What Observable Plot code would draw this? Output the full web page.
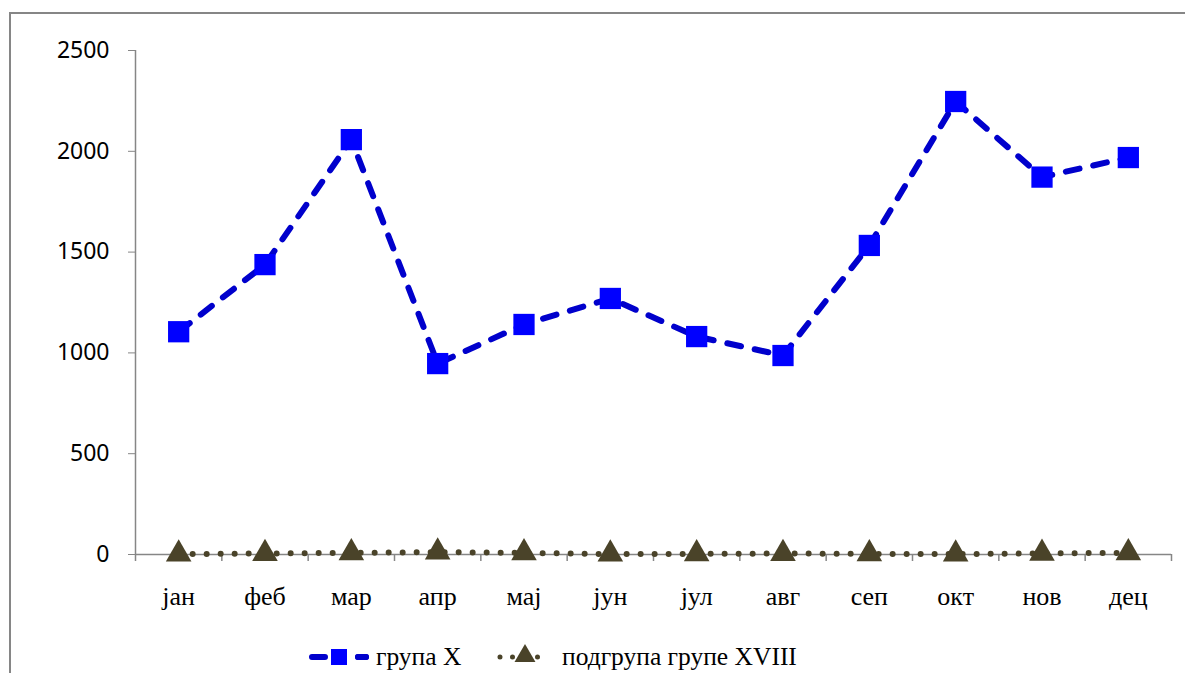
<!DOCTYPE html>
<html>
<head>
<meta charset="utf-8">
<script src="https://cdn.jsdelivr.net/npm/d3@7"></script>
<script src="https://cdn.jsdelivr.net/npm/@observablehq/plot@0.6"></script>
<style>
  html, body { margin: 0; padding: 0; background: #fff; }
  body { width: 1185px; height: 673px; overflow: hidden; position: relative; }
  #frame { position: absolute; left: 9px; top: 12px; width: 1300px; height: 800px;
           border-left: 2px solid #868686; border-top: 2px solid #868686; box-sizing: border-box; }
  #chart { position: absolute; left: 0; top: 0; }
  .legend-item { position: absolute; top: 641px; height: 32px; display: flex; align-items: center;
                 font-family: "Liberation Serif", "Times New Roman", serif; font-size: 25.5px; color: #000; }
  .legend-item svg { display: block; }
</style>
</head>
<body>
<div id="frame"></div>
<div id="chart"></div>
<div class="legend-item" id="leg1" style="left:308px"></div>
<div class="legend-item" id="leg2" style="left:496px"></div>
<script>
// Months (Serbian Cyrillic) and monthly values for the two series
const months = ["јан", "феб", "мар", "апр", "мај", "јун", "јул", "авг", "сеп", "окт", "нов", "дец"];
const grupaX = [1105, 1438, 2058, 947, 1141, 1270, 1081, 987, 1533, 2247, 1872, 1969];
const podgrupaXVIII = [2, 5, 8, 12, 8, 2, 3, 5, 3, 2, 6, 8];
const yTicks = [0, 500, 1000, 1500, 2000, 2500];
const seriesNames = ["група X", "подгрупа групе XVIII"];

const blueLine = "#0000cc";
const blueMark = "#0000ff";
const olive = "#4a4329";
const axisGray = "#868686";

const rowsX = months.map((m, i) => ({i, month: m, value: grupaX[i]}));
const rowsSub = months.map((m, i) => ({i, month: m, value: podgrupaXVIII[i]}));
const centers = months.map((_, i) => i);
const bounds = d3.range(months.length + 1).map(i => i - 0.5);

const chart = Plot.plot({
  width: 1185,
  height: 625,
  marginLeft: 135,
  marginRight: 14,
  marginTop: 50,
  marginBottom: 71,
  style: {background: "transparent"},
  x: {domain: [-0.5, months.length - 0.5], label: null},
  y: {domain: [0, 2500], label: null},
  marks: [
    Plot.axisY({ticks: yTicks, tickFormat: d => String(d), tickSize: 7, tickPadding: 19,
                stroke: axisGray, fill: "#000", fontSize: 23, fontFamily: "Noto Sans", label: null}),
    Plot.axisX({ticks: centers, tickFormat: i => months[i], tickSize: 0, tickPadding: 32,
                fill: "#000", fontSize: 26, fontFamily: "Liberation Serif", label: null}),
    Plot.axisX({ticks: bounds, tickFormat: () => "", tickSize: 7, stroke: axisGray, strokeWidth: 1.5, label: null}),
    Plot.ruleX([-0.5], {stroke: axisGray, strokeWidth: 1.5}),
    Plot.ruleY([0], {stroke: axisGray, strokeWidth: 1.5}),
    Plot.line(rowsSub, {x: "i", y: "value", stroke: olive, strokeWidth: 6,
                        strokeDasharray: "0 14", strokeLinecap: "round"}),
    Plot.dot(rowsSub, {x: "i", y: "value", symbol: "triangle", r: 9.5, fill: olive}),
    Plot.line(rowsX, {x: "i", y: "value", stroke: blueLine, strokeWidth: 6,
                      strokeDasharray: "14 14", strokeLinecap: "round"}),
    Plot.dot(rowsX, {x: "i", y: "value", symbol: "square", r: 12, fill: blueMark})
  ]
});
document.getElementById("chart").appendChild(chart);

// Legend entries with line + marker swatches
function swatch(kind) {
  const svg = d3.create("svg").attr("width", 62).attr("height", 32);
  if (kind === "x") {
    svg.append("line").attr("x1", 4).attr("x2", 58).attr("y1", 16).attr("y2", 16)
      .attr("stroke", blueLine).attr("stroke-width", 6).attr("stroke-linecap", "round")
      .attr("stroke-dasharray", "13 33");
    svg.append("line").attr("x1", 50).attr("x2", 58).attr("y1", 16).attr("y2", 16)
      .attr("stroke", blueLine).attr("stroke-width", 6).attr("stroke-linecap", "round");
    svg.append("rect").attr("x", 23).attr("y", 8).attr("width", 16).attr("height", 16).attr("fill", blueMark);
  } else {
    svg.append("line").attr("x1", 4).attr("x2", 54).attr("y1", 16).attr("y2", 16)
      .attr("stroke", olive).attr("stroke-width", 5).attr("stroke-linecap", "round")
      .attr("stroke-dasharray", "0 12.5");
    svg.append("path").attr("transform", "translate(29,15)")
      .attr("d", d3.symbol(d3.symbolTriangle, 190)()).attr("fill", olive);
  }
  return svg.node();
}
const leg1 = document.getElementById("leg1");
leg1.appendChild(swatch("x"));
leg1.appendChild(Object.assign(document.createElement("span"), {textContent: seriesNames[0], style: "margin-left:6px"}));
const leg2 = document.getElementById("leg2");
leg2.appendChild(swatch("sub"));
leg2.appendChild(Object.assign(document.createElement("span"), {textContent: seriesNames[1], style: "margin-left:4px"}));
</script>
</body>
</html>
